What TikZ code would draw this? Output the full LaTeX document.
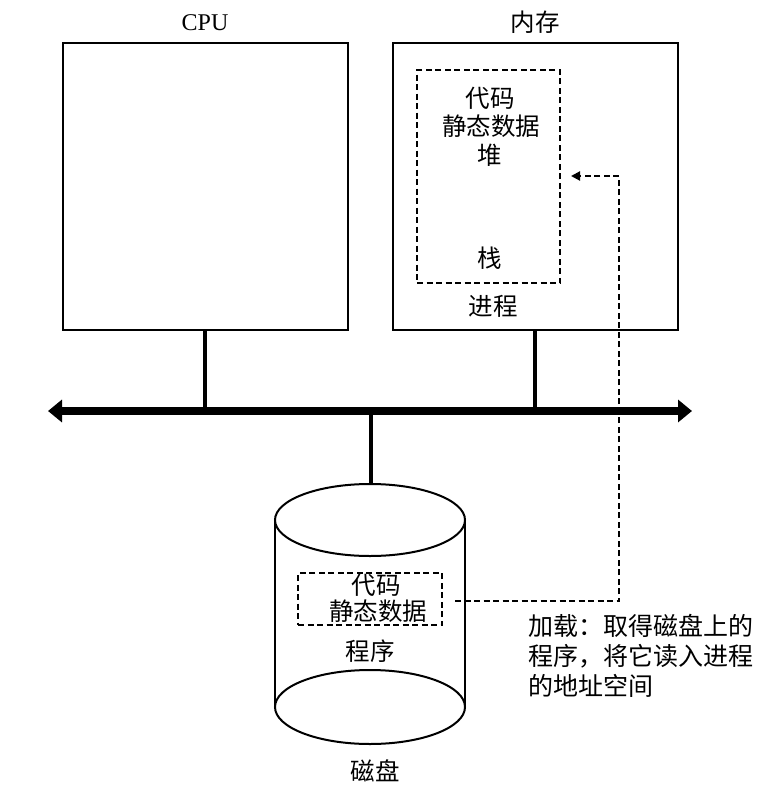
\documentclass[tikz,border=0pt]{standalone}
\usepackage{fontspec}
\setmainfont{Liberation Serif}
\newfontfamily\cjk{Noto Sans CJK SC}
\usetikzlibrary{arrows.meta}
\begin{document}
\begin{tikzpicture}[x=1pt,y=-1pt,
  lbl/.style={inner sep=0pt,font=\cjk\fontsize{24.5}{28}\selectfont},
  bigbox/.style={draw,line width=2pt,minimum width=285pt,minimum height=287pt,inner sep=0pt},
  dbox/.style={draw,line width=2pt,dash pattern=on 6pt off 3.5pt,inner sep=0pt},
  stem/.style={line width=4pt},
  cyl/.style={line width=2pt},
  busline/.style={line width=8pt,{Triangle[length=14pt,width=22pt]}-{Triangle[length=14pt,width=22pt]}},
  loadline/.style={line width=2pt,dash pattern=on 6pt off 3.5pt,-{Triangle[length=9pt,width=9pt]}}
]
\useasboundingbox (0,0) rectangle (767,788);
% boxes
\node[bigbox] (cpu) at (205.5,186.5) {};
\node[bigbox] (mem) at (535.5,186.5) {};
\node[inner sep=0pt,font=\fontsize{24}{28}\selectfont] (cpul) at (205,23) {CPU};
\node[lbl] (meml) at (535,22) {内存};
% process dashed box
\node[dbox,minimum width=143pt,minimum height=213pt] (proc) at (488.5,176.5) {};
\node[lbl] (t1) at (490,98) {代码};
\node[lbl] (t2) at (491,126) {静态数据};
\node[lbl] (t3) at (490,155) {堆};
\node[lbl] (t4) at (490,258) {栈};
\node[lbl] (t5) at (493,306) {进程};
% bus
\coordinate (busL) at (48,411);
\coordinate (busR) at (692,411);
\draw[busline] (busL) -- (busR);
\coordinate (cpuB) at (205,411);
\coordinate (memB) at (535,411);
\coordinate (diskB) at (371,411);
\draw[stem] (cpu.south -| cpuB) -- (cpuB);
\draw[stem] (mem.south -| memB) -- (memB);
% disk cylinder
\coordinate (dtop) at (370,520);
\coordinate (dbot) at (370,707);
\draw[cyl] (dtop) ellipse [x radius=95, y radius=36];
\draw[cyl] (dbot) ellipse [x radius=95, y radius=37];
\draw[cyl] (275,520) -- (275,707);
\draw[cyl] (465,520) -- (465,707);
\coordinate (dtopN) at (371,484);
\draw[stem] (diskB) -- (dtopN);
% program dashed box
\node[dbox,minimum width=144pt,minimum height=52pt] (prog) at (370,599) {};
\node[lbl] (p1) at (376,585) {代码};
\node[lbl] (p2) at (378,611) {静态数据};
\node[lbl] (p3) at (370,651) {程序};
\node[lbl] (p4) at (375,771) {磁盘};
% load arrow
\coordinate (ls) at (455,601);
\coordinate (lc1) at (619,601);
\coordinate (lc2) at (619,176);
\coordinate (le) at (571,176);
\draw[loadline] (ls) -- (lc1) -- (lc2) -- (le);
% annotation
\node[lbl,anchor=north west,align=left,font=\cjk\fontsize{25}{30}\selectfont] (note) at (528,614) {加载：取得磁盘上的\\程序，将它读入进程\\的地址空间};
\end{tikzpicture}
\end{document}
